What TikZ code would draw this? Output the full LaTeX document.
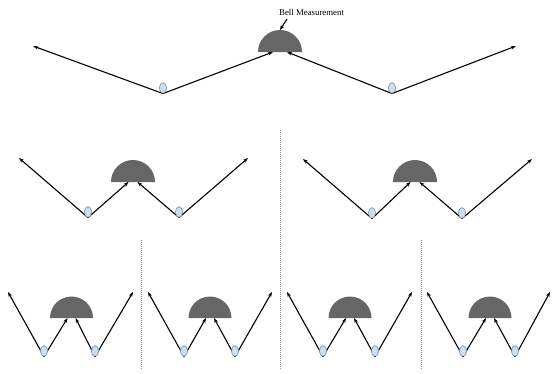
\documentclass[tikz,border=0pt]{standalone}
\usepackage{fontspec}
\setmainfont{Liberation Serif}
\usetikzlibrary{arrows.meta,shapes.geometric}
\definecolor{detgray}{HTML}{666666}
\definecolor{photonfill}{HTML}{D3DDE8}
\definecolor{photonedge}{HTML}{7E9CC4}
\tikzset{
  beam/.style={line width=1.1pt,-{Stealth[length=5pt,width=3.6pt]}},
  photon/.style={ellipse,draw=photonedge,fill=photonfill,line width=0.6pt,
    minimum width=7pt,minimum height=10.5pt,inner sep=0pt},
  detector/.style={fill=detgray},
  divider/.style={draw=gray!85,dash pattern=on 1pt off 1pt,line width=0.9pt},
  lbl/.style={font=\fontsize{8.8}{10}\selectfont,inner sep=1pt}
}
\begin{document}
\begin{tikzpicture}[x=1pt,y=-1pt]
\useasboundingbox (0,0) rectangle (552,373);

% one entanglement-swapping stage per entry:
% name / detector centre x / detector base y / radius / half gap of inputs /
% left photon x / right photon x / photon y / left tip x / right tip x / tip y
\foreach \n/\cx/\by/\r/\g/\lx/\rx/\ey/\ltx/\rtx/\ty in {
   t/280/52/22/7/163/392/88/33/516/46,
   ma/133/182/22/4.5/88/179/212/19/248/158,
   mb/415/182/22/4.5/372/462/213/303/532/159,
   ba/71.5/318/21.5/4/44/95/351/8/133/292,
   bb/210/318/21.5/4/184/235/351/148/272/292,
   bc/350/318/21.5/4/323/375/351/287/412/292,
   bd/490/318/21.5/4/463/515/351/427/550/292}{
  \fill[detector] (\cx-\r,\by) arc[start angle=180,end angle=360,radius=\r] -- cycle;
  \coordinate (\n-inL) at (\cx-\g,\by);
  \coordinate (\n-inR) at (\cx+\g,\by);
  \coordinate (\n-tipL) at (\ltx,\ty);
  \coordinate (\n-tipR) at (\rtx,\ty);
  \node[photon] (\n-pL) at (\lx,\ey) {};
  \node[photon] (\n-pR) at (\rx,\ey) {};
  \draw[beam] (\n-pL.south) -- (\n-tipL);
  \draw[beam] (\n-pL.south) -- (\n-inL);
  \draw[beam] (\n-pR.south) -- (\n-inR);
  \draw[beam] (\n-pR.south) -- (\n-tipR);
  \node[photon] at (\n-pL) {};
  \node[photon] at (\n-pR) {};
}

% label of the top Bell measurement
\node[lbl,anchor=west] (bell) at (278,12) {Bell Measurement};
\coordinate (bell-top) at (280,30);
\draw[line width=1.1pt,-{Stealth[length=5pt,width=4pt]}] (287,19) -- (bell-top);

% dividers between the branches
\coordinate (d1a) at (280,130); \coordinate (d1b) at (280,370);
\coordinate (d2a) at (141,240); \coordinate (d2b) at (141,370);
\coordinate (d3a) at (421,240); \coordinate (d3b) at (421,370);
\draw[divider] (d1a) -- (d1b);
\draw[divider] (d2a) -- (d2b);
\draw[divider] (d3a) -- (d3b);
\end{tikzpicture}
\end{document}
